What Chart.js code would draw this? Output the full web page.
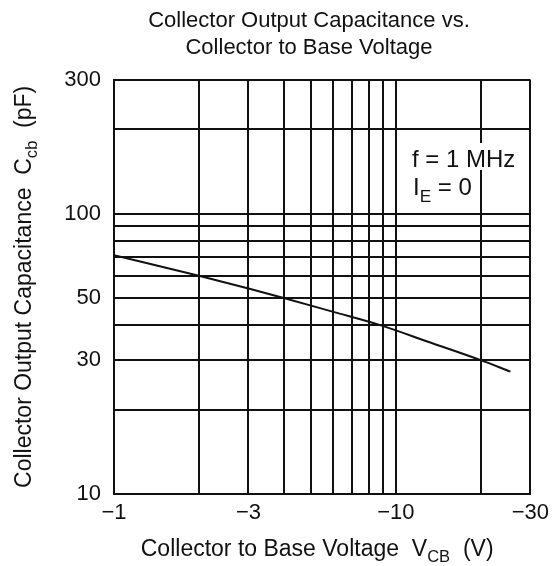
<!DOCTYPE html>
<html><head><meta charset="utf-8">
<script src="https://cdn.jsdelivr.net/npm/chart.js@4.4.1/dist/chart.umd.min.js"></script>
<style>html,body{margin:0;padding:0;background:#fff}#wrap{width:555px;height:566px}</style>
</head><body><div id="wrap"><canvas id="c" width="555" height="566"></canvas></div>
<script>
// ---- data ----
const titleLines = ["Collector Output Capacitance vs.", "Collector to Base Voltage"];
const voltage = [1, 2, 3, 4, 6, 8.8, 13, 20, 25.5];          // |V_CB| (V)
const capacitance = [71, 60, 54, 50, 44.6, 40, 34.9, 30, 27.3]; // C_cb (pF)
const xGridValues = [1, 2, 3, 4, 5, 6, 7, 8, 9, 10, 20, 30];
const xTickLabels = [1, 3, 10, 30];
const yGridValues = [10, 20, 30, 40, 50, 60, 70, 80, 90, 100, 200, 300];
const yTickLabels = [10, 30, 50, 100, 300];
const xTitleParts = [["Collector to Base Voltage  V", false], ["CB", true], ["  (V)", false]];
const yTitleParts = [["Collector Output Capacitance  C", false], ["cb", true], ["  (pF)", false]];
const noteLine1 = [["f = 1 MHz", false]];
const noteLine2 = [["I", false], ["E", true], [" = 0", false]];

const FONT = "'Liberation Sans', Arial, Helvetica, sans-serif";
const INK = '#111';

function partsWidth(ctx, parts, size) {
  let w = 0;
  for (const [t, sub] of parts) {
    ctx.font = (sub ? size * 0.72 : size) + 'px ' + FONT;
    w += ctx.measureText(t).width;
  }
  return w;
}
function drawParts(ctx, parts, x, y, size, align) {
  const w = partsWidth(ctx, parts, size);
  let cx = align === 'center' ? x - w / 2 : x;
  ctx.textBaseline = 'alphabetic';
  ctx.textAlign = 'left';
  for (const [t, sub] of parts) {
    ctx.font = (sub ? size * 0.72 : size) + 'px ' + FONT;
    ctx.fillText(t, cx, sub ? y + size * 0.28 : y);
    cx += ctx.measureText(t).width;
  }
  return w;
}

const textPlugin = {
  id: 'textPlugin',
  afterDraw(chart) {
    const ctx = chart.ctx;
    const a = chart.chartArea;
    ctx.save();
    ctx.fillStyle = INK;
    // x axis title
    drawParts(ctx, xTitleParts, (a.left + a.right) / 2 - 5, 556, 23, 'center');
    // y axis title
    ctx.save();
    ctx.translate(31, (a.top + a.bottom) / 2);
    ctx.rotate(-Math.PI / 2);
    drawParts(ctx, yTitleParts, 0, 0, 23, 'center');
    ctx.restore();
    // note box
    ctx.fillStyle = '#fff';
    ctx.fillRect(408, 143, 110, 27);
    ctx.fillStyle = INK;
    drawParts(ctx, noteLine1, 412, 167, 24, 'left');
    drawParts(ctx, noteLine2, 413, 195, 24, 'left');
    ctx.restore();
  }
};

const tickFont = { family: FONT, size: 22, weight: 'normal' };

new Chart(document.getElementById('c'), {
  type: 'line',
  data: {
    datasets: [{
      data: voltage.map((v, i) => ({ x: v, y: capacitance[i] })),
      borderColor: INK,
      borderWidth: 2,
      pointRadius: 0,
      fill: false,
      cubicInterpolationMode: 'monotone'
    }]
  },
  options: {
    responsive: false,
    animation: false,
    devicePixelRatio: 1,
    layout: { padding: { left: 86, right: 23, top: 0, bottom: 0 } },
    plugins: {
      legend: { display: false },
      tooltip: { enabled: false },
      title: {
        display: true,
        text: titleLines,
        color: INK,
        font: { family: FONT, size: 22, weight: 'normal', lineHeight: 1.22 },
        padding: { top: 8, bottom: 18 }
      }
    },
    scales: {
      x: {
        type: 'logarithmic',
        min: 1, max: 30,
        afterBuildTicks: s => { s.ticks = xGridValues.map(v => ({ value: v })); },
        afterFit: s => { s.height = 72; },
        ticks: {
          autoSkip: false, maxRotation: 0, minRotation: 0, padding: 6,
          color: INK, font: tickFont,
          callback: v => xTickLabels.includes(v) ? '\u2212' + v : ''
        },
        grid: { color: INK, lineWidth: 2, drawTicks: false },
        border: { color: INK, width: 2 }
      },
      y: {
        type: 'logarithmic',
        min: 10, max: 300,
        afterBuildTicks: s => { s.ticks = yGridValues.map(v => ({ value: v })); },
        afterFit: s => { s.width = 28; s._computeLabelArea = () => undefined; },
        ticks: {
          autoSkip: false, padding: 13,
          color: INK, font: tickFont,
          callback: v => yTickLabels.includes(v) ? String(v) : ''
        },
        grid: { color: INK, lineWidth: 2, drawTicks: false },
        border: { color: INK, width: 2 }
      }
    }
  },
  plugins: [textPlugin]
});
</script>
</body></html>
